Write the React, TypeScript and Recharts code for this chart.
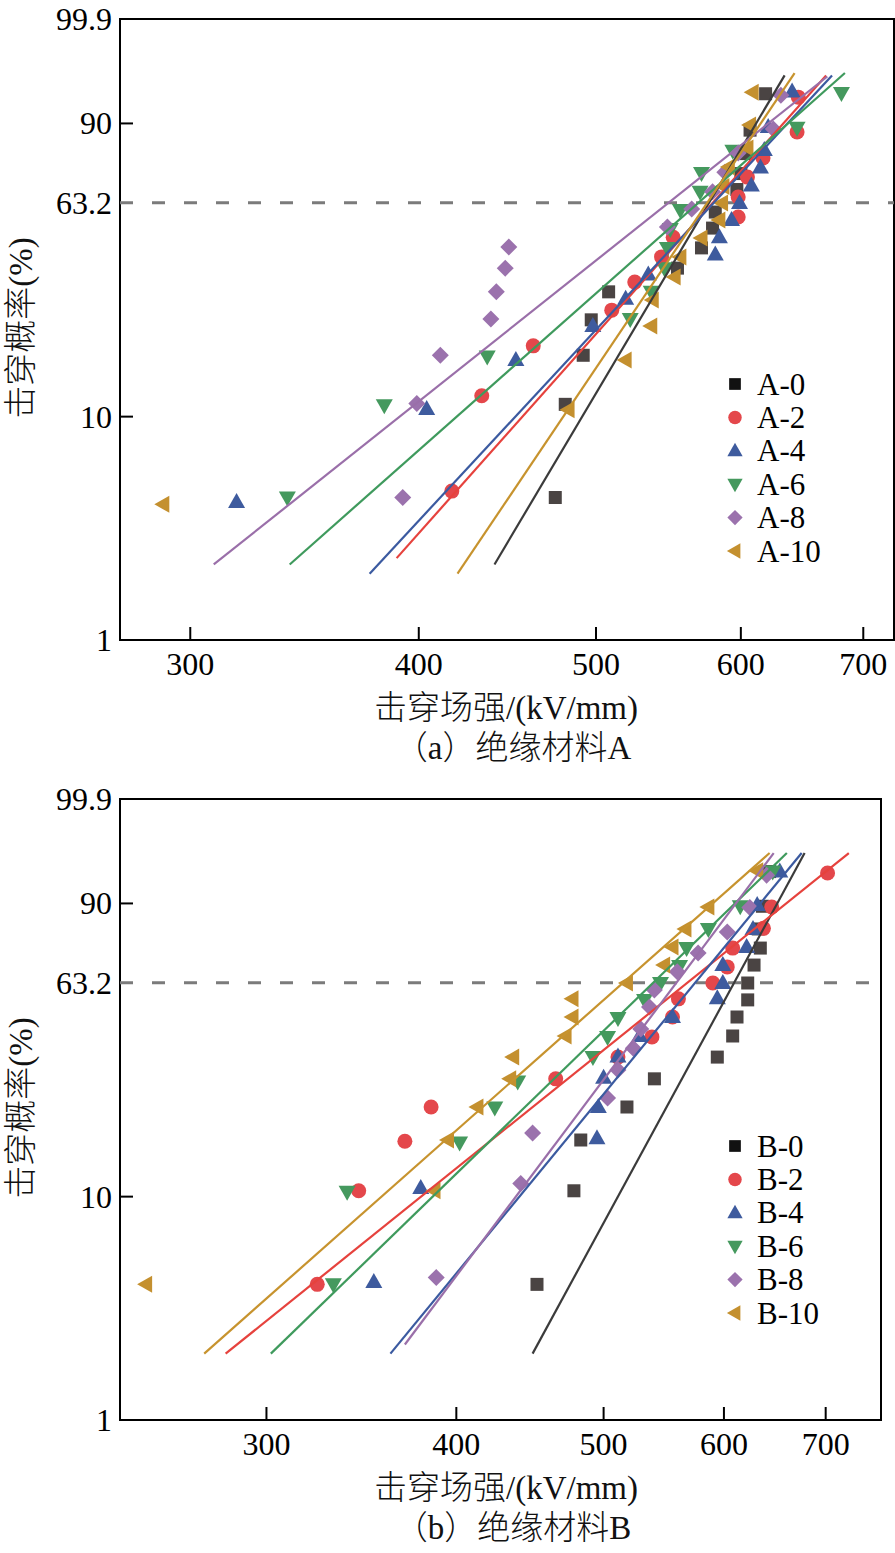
import React from 'react';
import { ScatterChart, Scatter, XAxis, YAxis, ReferenceLine, ReferenceArea } from 'recharts';

// ---------------- axes ----------------
const xTicks = [300, 400, 500, 600, 700];
const yTickProb = [1, 10, 63.2, 90, 99.9];
const yTickLabels = ['1', '10', '63.2', '90', '99.9'];
const domainA: [number, number] = [274.6, 727.6];
const domainB: [number, number] = [240.3, 761.2];

// ---------------- panel A (绝缘材料A) ----------------
const namesA = ['A-0', 'A-2', 'A-4', 'A-6', 'A-8', 'A-10'];
const a0E = [475, 481, 492, 497, 508, 554, 571, 579, 581, 597, 600, 604, 607, 619];
const a0F = [4.4, 11.3, 18.2, 25.3, 32.4, 39.5, 46.3, 53.5, 59.6, 68.3, 74.3, 81.3, 88.3, 95.7];
const a2E = [417, 433, 462, 510, 525, 543, 551, 598, 598, 605, 617, 644, 645];
const a2F = [4.7, 12.3, 19.9, 27.6, 35.2, 43.2, 50.1, 57.7, 65.4, 73.0, 79.8, 87.8, 95.2];
const a4E = [318, 404, 452, 498, 519, 534, 581, 584, 593, 599, 608, 615, 618, 621, 640];
const a4F = [4.2, 10.8, 17.4, 23.9, 30.5, 37.5, 44.0, 50.1, 56.6, 63.1, 69.8, 76.5, 82.5, 89.1, 96.0];
const a6E = [339, 383, 436, 522, 536, 545, 547, 549, 556, 570, 571, 594, 644, 681];
const a6F = [4.4, 11.2, 18.0, 25.5, 32.4, 39.5, 46.3, 53.2, 60.4, 67.4, 74.5, 82.2, 88.9, 95.8];
const a8E = [392, 399, 411, 438, 441, 446, 448, 547, 564, 579, 588, 598, 625, 631];
const a8F = [4.4, 11.4, 18.2, 25.5, 32.4, 39.5, 46.6, 53.9, 60.8, 67.4, 74.8, 81.5, 88.6, 95.5];
const a10E = [290, 483, 519, 536, 537, 552, 556, 571, 584, 586, 587, 591, 605, 607, 609];
const a10F = [4.1, 10.7, 17.4, 23.9, 30.2, 36.7, 43.2, 49.8, 56.6, 63.1, 69.5, 76.7, 83.1, 89.6, 95.9];
// fitted Weibull lines: [E1, F1(%), E2, F2(%)]
const a0Fit = [440, 2.2, 634, 97.8];
const a2Fit = [389, 2.35, 668, 97.8];
const a4Fit = [376, 2.0, 673, 97.8];
const a6Fit = [340, 2.2, 684, 98.0];
const a8Fit = [309, 2.2, 669, 97.7];
const a10Fit = [420, 2.0, 642, 98.0];

// ---------------- panel B (绝缘材料B) ----------------
const namesB = ['B-0', 'B-2', 'B-4', 'B-6', 'B-8', 'B-10'];
const b0E = [452, 478, 483, 518, 540, 594, 608, 612, 622, 622, 628, 634, 632, 636, 643];
const b0F = [4.1, 10.6, 17.4, 23.7, 30.5, 36.7, 43.5, 50.2, 56.6, 63.1, 70.0, 76.3, 82.8, 89.3, 96.0];
const b2E = [324, 345, 370, 385, 465, 511, 538, 555, 560, 590, 603, 608, 637, 645, 702];
const b2F = [4.1, 10.6, 17.2, 23.7, 30.5, 36.7, 43.2, 50.2, 57.0, 63.1, 69.3, 76.3, 83.0, 89.1, 95.8];
const b4E = [353, 379, 495, 496, 500, 511, 528, 555, 594, 599, 599, 621, 627, 631, 653];
const b4F = [4.2, 10.9, 17.7, 23.7, 30.8, 36.9, 43.5, 50.2, 57.2, 63.1, 70.0, 76.7, 82.8, 89.6, 96.0];
const b6E = [332, 339, 402, 424, 439, 492, 503, 511, 532, 545, 561, 567, 586, 615, 646];
const b6F = [4.1, 10.5, 17.0, 23.6, 29.8, 36.7, 43.2, 49.8, 56.6, 63.1, 69.6, 76.3, 82.8, 89.3, 96.0];
const b8E = [388, 441, 449, 503, 511, 523, 529, 536, 540, 559, 577, 603, 624, 640];
const b8F = [4.4, 11.4, 18.6, 25.7, 32.9, 39.5, 45.9, 53.9, 60.4, 67.4, 74.5, 81.8, 89.0, 95.5];
const b10E = [250, 387, 395, 413, 434, 436, 472, 477, 477, 518, 548, 555, 566, 586, 631];
const b10F = [4.1, 10.6, 17.4, 23.7, 30.5, 36.7, 43.5, 50.2, 57.0, 63.1, 70.0, 76.7, 82.8, 89.1, 96.1];
const b0Fit = [449, 2.0, 678, 98.0];
const b2Fit = [282, 2.0, 725, 98.0];
const b4Fit = [362, 2.0, 675, 98.0];
const b6Fit = [302, 2.0, 660, 98.0];
const b8Fit = [370, 2.2, 647, 98.0];
const b10Fit = [273, 2.0, 643, 98.0];

// ---------------- styling ----------------
const kinds = ['square', 'circle', 'up', 'down', 'diamond', 'left'];
const markerColors = ['#4a4443', '#e4474b', '#3e5b9e', '#45995e', '#9b72ad', '#c4902f'];
const lineColors = ['#3b3b3b', '#e6423d', '#3b5aa0', '#3f9a5d', '#9a6fa9', '#c7932e'];
const legendColors = ['#111111', '#e4474b', '#3e5b9e', '#45995e', '#9b72ad', '#c4902f'];
const FONT = "'Liberation Serif', 'Times New Roman', 'Noto Sans CJK SC', serif";

const wb = (F: number) => Math.log(-Math.log(1 - F / 100));
const Y_MIN = wb(1);
const Y_MAX = wb(99.9);
const PLOT_LEFT = 120;
const PLOT_BOTTOM = 640;

type Series = { name: string; E: number[]; F: number[]; fit: number[] };

const seriesA: Series[] = [
  { name: namesA[0], E: a0E, F: a0F, fit: a0Fit },
  { name: namesA[1], E: a2E, F: a2F, fit: a2Fit },
  { name: namesA[2], E: a4E, F: a4F, fit: a4Fit },
  { name: namesA[3], E: a6E, F: a6F, fit: a6Fit },
  { name: namesA[4], E: a8E, F: a8F, fit: a8Fit },
  { name: namesA[5], E: a10E, F: a10F, fit: a10Fit },
];
const seriesB: Series[] = [
  { name: namesB[0], E: b0E, F: b0F, fit: b0Fit },
  { name: namesB[1], E: b2E, F: b2F, fit: b2Fit },
  { name: namesB[2], E: b4E, F: b4F, fit: b4Fit },
  { name: namesB[3], E: b6E, F: b6F, fit: b6Fit },
  { name: namesB[4], E: b8E, F: b8F, fit: b8Fit },
  { name: namesB[5], E: b10E, F: b10F, fit: b10Fit },
];

function Marker({ kind, cx, cy, color, s = 1 }: { kind: string; cx: number; cy: number; color: string; s?: number }) {
  if (cx == null || cy == null || isNaN(cx) || isNaN(cy)) return <g />;
  const p = (pts: number[][]) => pts.map(([x, y]) => `${cx + x * s},${cy + y * s}`).join(' ');
  switch (kind) {
    case 'square':
      return <rect x={cx - 6.5 * s} y={cy - 6.5 * s} width={13 * s} height={13 * s} fill={color} />;
    case 'circle':
      return <circle cx={cx} cy={cy} r={7.5 * s} fill={color} />;
    case 'up':
      return <polygon points={p([[0, -9], [-8.5, 6], [8.5, 6]])} fill={color} />;
    case 'down':
      return <polygon points={p([[-8.5, -6], [8.5, -6], [0, 9]])} fill={color} />;
    case 'diamond':
      return <polygon points={p([[0, -8.5], [8.5, 0], [0, 8.5], [-8.5, 0]])} fill={color} />;
    default:
      return <polygon points={p([[-9, 0], [6, -8.5], [6, 8.5]])} fill={color} />;
  }
}

const XTick = (props: any) => {
  const { x, payload } = props;
  return (
    <g>
      <line x1={x} y1={PLOT_BOTTOM} x2={x} y2={PLOT_BOTTOM - 13} stroke="#000" strokeWidth={2} />
      <text x={x} y={PLOT_BOTTOM + 35} textAnchor="middle" fontSize={32} fontFamily={FONT} fill="#000">
        {payload.value}
      </text>
    </g>
  );
};

const YTick = (props: any) => {
  const { y, index } = props;
  const label = yTickLabels[index];
  return (
    <g>
      {label !== '63.2' && (
        <line x1={PLOT_LEFT} y1={y} x2={PLOT_LEFT + 13} y2={y} stroke="#000" strokeWidth={2} />
      )}
      <text x={PLOT_LEFT - 8} y={y} dy={11} textAnchor="end" fontSize={32} fontFamily={FONT} fill="#000">
        {label}
      </text>
    </g>
  );
};

const textStyle = (left: number, top: number, rotate = false): React.CSSProperties => ({
  position: 'absolute',
  left,
  top,
  transform: rotate ? 'translate(-50%, -50%) rotate(-90deg)' : 'translate(-50%, -50%)',
  whiteSpace: 'nowrap',
  fontSize: 33,
  fontFamily: FONT,
  fontWeight: 300,
  lineHeight: 1,
  color: '#111',
});

function Panel({
  series,
  domain,
  right,
  legendTop,
  caption,
}: {
  series: Series[];
  domain: [number, number];
  right: number;
  legendTop: number;
  caption: string;
}) {
  return (
    <div style={{ position: 'relative', width: 895, height: 780 }}>
      <ScatterChart width={895} height={700} margin={{ top: 19, right, left: 0, bottom: 0 }}>
        <XAxis
          type="number"
          dataKey="x"
          scale="log"
          domain={domain}
          allowDataOverflow
          ticks={xTicks}
          interval={0}
          axisLine={false}
          tickLine={false}
          tickSize={0}
          tickMargin={0}
          height={60}
          tick={(p: any) => <XTick {...p} />}
        />
        <YAxis
          type="number"
          dataKey="y"
          domain={[Y_MIN, Y_MAX]}
          allowDataOverflow
          ticks={yTickProb.map(wb)}
          interval={0}
          axisLine={false}
          tickLine={false}
          tickSize={0}
          tickMargin={0}
          width={120}
          tick={(p: any) => <YTick {...p} />}
        />
        <ReferenceArea
          x1={domain[0]}
          x2={domain[1]}
          y1={Y_MIN}
          y2={Y_MAX}
          fill="none"
          fillOpacity={0}
          stroke="#000"
          strokeWidth={2}
          ifOverflow="visible"
        />
        <ReferenceLine y={wb(63.2)} stroke="#7b7b7b" strokeWidth={3} strokeDasharray="13 19" />
        {series.map((s, i) => (
          <Scatter
            key={'m' + s.name}
            name={s.name}
            data={s.E.map((e, j) => ({ x: e, y: wb(s.F[j]) }))}
            isAnimationActive={false}
            shape={(p: any) => <Marker kind={kinds[i]} cx={p.cx} cy={p.cy} color={markerColors[i]} />}
          />
        ))}
        {series.map((s, i) => (
          <Scatter
            key={'l' + s.name}
            name={s.name + ' fit'}
            data={[
              { x: s.fit[0], y: wb(s.fit[1]) },
              { x: s.fit[2], y: wb(s.fit[3]) },
            ]}
            isAnimationActive={false}
            line={{ stroke: lineColors[i], strokeWidth: 2.2 }}
            shape={() => <g />}
            legendType="none"
          />
        ))}
      </ScatterChart>

      {/* legend */}
      <svg width={895} height={780} style={{ position: 'absolute', left: 0, top: 0, pointerEvents: 'none' }}>
        {series.map((s, i) => {
          const y = legendTop + i * 33.4;
          return (
            <g key={'lg' + s.name}>
              <Marker kind={kinds[i]} cx={735} cy={y} color={legendColors[i]} s={0.9} />
              <text x={757} y={y} dy={10.5} fontSize={31} fontFamily={FONT} fill="#000">
                {s.name}
              </text>
            </g>
          );
        })}
      </svg>

      <div style={textStyle(21, 328, true)}>击穿概率(%)</div>
      <div style={textStyle(506, 708)}>击穿场强/(kV/mm)</div>
      <div style={textStyle(513, 748)}>{caption}</div>
    </div>
  );
}

export default function App() {
  return (
    <div style={{ position: 'absolute', left: 0, top: 0, width: 895, height: 1553, background: '#fff', overflow: 'hidden' }}>
      <Panel series={seriesA} domain={domainA} right={1} legendTop={384} caption="（a）绝缘材料A" />
      <Panel series={seriesB} domain={domainB} right={14} legendTop={1146 - 780} caption="（b）绝缘材料B" />
    </div>
  );
}
